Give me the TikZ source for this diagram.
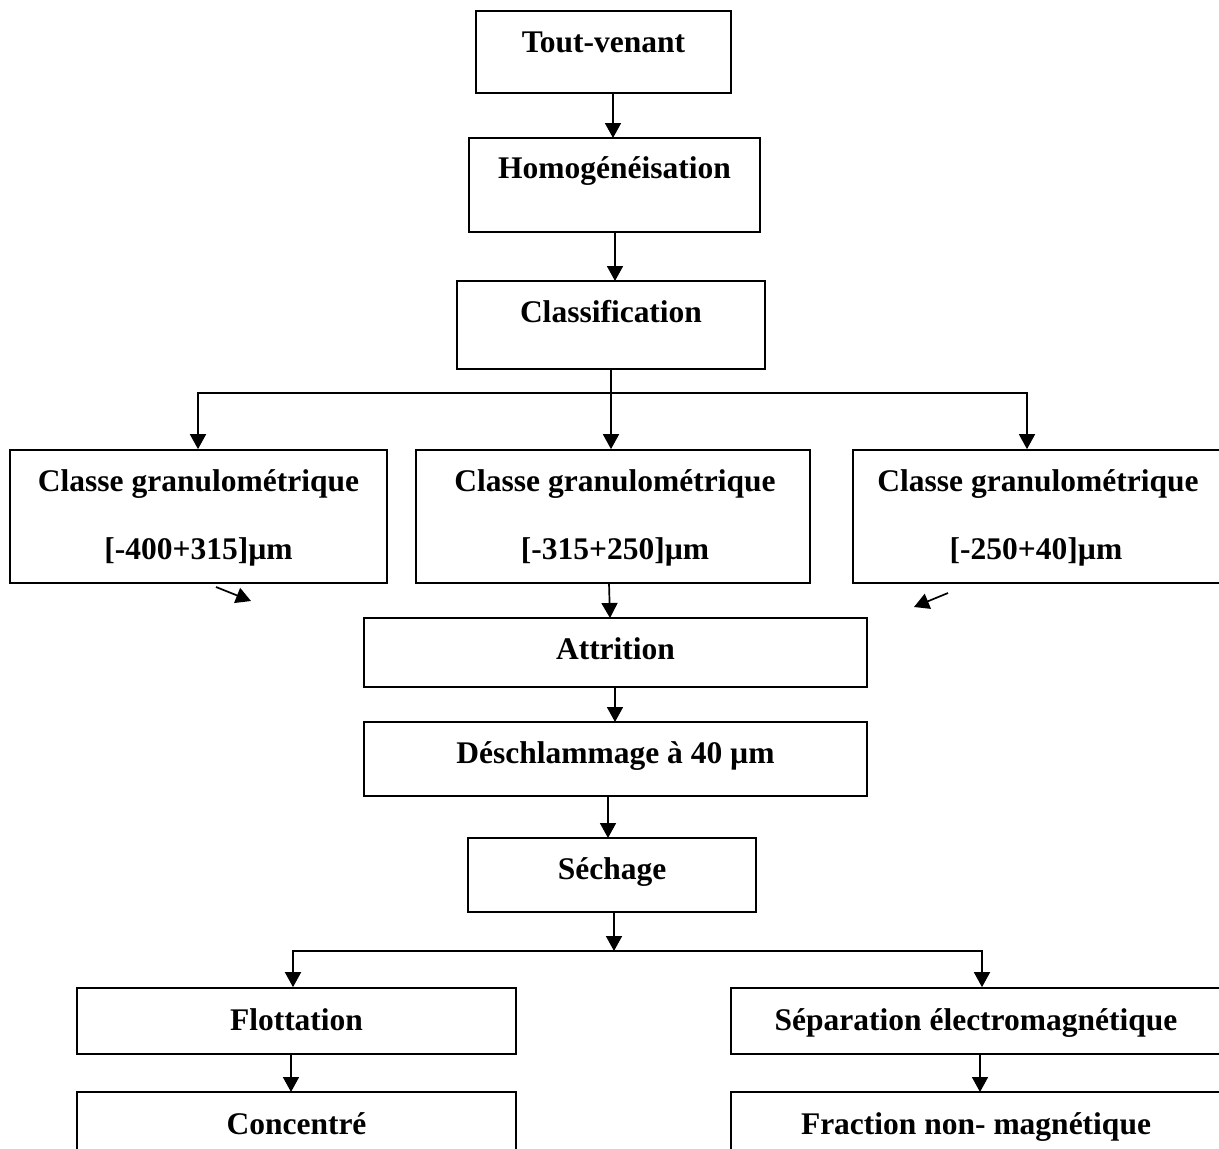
\documentclass[tikz,border=0pt]{standalone}
\usepackage{fontspec}
\setmainfont{Liberation Serif}
\usetikzlibrary{arrows.meta}
\begin{document}
\begin{tikzpicture}[x=1pt,y=1pt,
  box/.style={draw=black, line width=1.7pt, rectangle, inner sep=0pt},
  txt/.style={font=\fontsize{31.5pt}{36pt}\selectfont\bfseries, inner sep=0pt, anchor=base},
  arr/.style={line width=1.7pt, -{Triangle[length=15pt,width=16pt]}},
  ln/.style={line width=1.7pt}
]
\useasboundingbox (0,0) rectangle (1219,-1149);
\clip (0,0) rectangle (1219,-1149);
\fill[white] (0,0) rectangle (1219,-1149);

% process boxes (labels set on their baselines)
\node[box, minimum width=255, minimum height=82] (tv) at (603.5,-52) {};
\node[txt] (tvt) at (603.5,-52.5) {Tout-venant};

\node[box, minimum width=291, minimum height=94] (hom) at (614.5,-185) {};
\node[txt] (homt) at (614.5,-178.5) {Homogénéisation};

\node[box, minimum width=308, minimum height=88] (cls) at (611,-325) {};
\node[txt] (clst) at (611,-322.5) {Classification};

\node[box, minimum width=377, minimum height=133] (cg1) at (198.5,-516.5) {};
\node[txt] (cg1a) at (198.5,-491.5) {Classe granulométrique};
\node[txt] (cg1b) at (198.5,-559.5) {[-400+315]µm};

\node[box, minimum width=394, minimum height=133] (cg2) at (613,-516.5) {};
\node[txt] (cg2a) at (615,-491.5) {Classe granulométrique};
\node[txt] (cg2b) at (615,-559.5) {[-315+250]µm};

\node[box, minimum width=369, minimum height=133] (cg3) at (1037.5,-516.5) {};
\node[txt] (cg3a) at (1038,-491.5) {Classe granulométrique};
\node[txt] (cg3b) at (1036,-559.5) {[-250+40]µm};

\node[box, minimum width=503, minimum height=69] (att) at (615.5,-652.5) {};
\node[txt] (attt) at (615.5,-659.5) {Attrition};

\node[box, minimum width=503, minimum height=74] (des) at (615.5,-759) {};
\node[txt] (dest) at (615.5,-763.5) {Déschlammage à 40 µm};

\node[box, minimum width=288, minimum height=74] (sec) at (612,-875) {};
\node[txt] (sect) at (612,-879.5) {Séchage};

\node[box, minimum width=439, minimum height=66] (flo) at (296.5,-1021) {};
\node[txt] (flot) at (296.5,-1030.5) {Flottation};

\node[box, minimum width=490, minimum height=66] (sep) at (976,-1021) {};
\node[txt] (sept) at (976,-1030.5) {Séparation électromagnétique};

\node[box, minimum width=439, minimum height=120] (con) at (296.5,-1152) {};
\node[txt] (cont) at (296.5,-1134.5) {Concentré};

\node[box, minimum width=490, minimum height=120] (fra) at (976,-1152) {};
\node[txt] (frat) at (976,-1134.5) {Fraction non- magnétique};

% branch points and free arrow ends
\coordinate (bl) at (198,-393);
\coordinate (br) at (1027,-393);
\coordinate (bb) at (614,-951);
\coordinate (bfl) at (293,-951);
\coordinate (bfr) at (982,-951);
\coordinate (d1s) at (216,-587);
\coordinate (d1e) at (251,-601);
\coordinate (d2s) at (948,-593);
\coordinate (d2e) at (914,-607);

% connectors
\draw[arr] (613,-93) -- (613,-138);
\draw[arr] (615,-232) -- (615,-281);
\draw[ln] (cls.south) -- (cls.south |- bl);
\draw[arr] (cls.south |- bl) -- (cls.south |- cg2.north);
\draw[arr] (cls.south |- bl) -- (bl) -- (bl |- cg1.north);
\draw[arr] (cls.south |- bl) -- (br) -- (br |- cg3.north);
\draw[arr] (d1s) -- (d1e);
\draw[arr] (d2s) -- (d2e);
\draw[arr] (609,-583) -- (610,-618);
\draw[arr] (615,-687) -- (615,-722);
\draw[arr] (608,-796) -- (608,-838);
\draw[arr] (bb |- sec.south) -- (bb);
\draw[arr] (bb) -- (bfl) -- (bfl |- flo.north);
\draw[arr] (bb) -- (bfr) -- (bfr |- sep.north);
\draw[arr] (291,-1054) -- (291,-1092);
\draw[arr] (980,-1054) -- (980,-1092);
\end{tikzpicture}
\end{document}
